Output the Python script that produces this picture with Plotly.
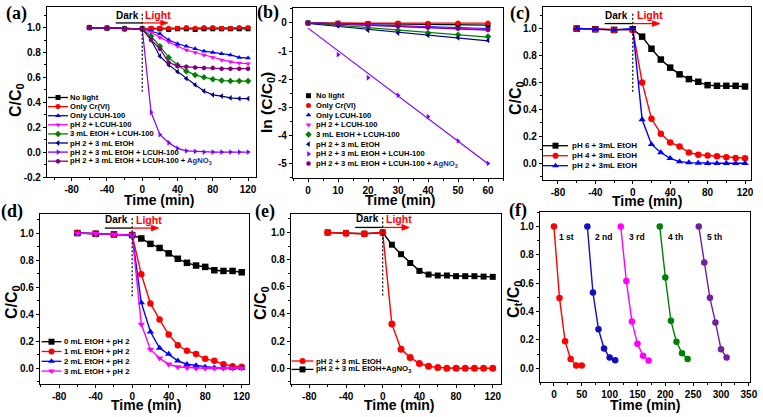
import numpy as np
import plotly.graph_objects as go

W, H = 763, 417
SANS = "Liberation Sans, Arial, sans-serif"
SERIF = "Liberation Serif, Times New Roman, serif"

# ---------------- data ----------------
T = [-60, -40, -20, 0, 10, 20, 30, 40, 50, 60, 70, 80, 90, 100, 110, 120]

A_NAMES = ["No light", "Only Cr(VI)", "Only LCUH-100", "pH 2 + LCUH-100",
           "3 mL EtOH + LCUH-100", "pH 2 + 3 mL EtOH",
           "pH 2 + 3 mL EtOH + LCUH-100",
           "pH 2 + 3 mL EtOH + LCUH-100 + <span style='color:#1c2a8a'>AgNO<sub>3</sub></span>"]
a_nolight = [1.0, 0.995, 0.99, 0.99, 0.99, 0.99, 0.985, 0.99, 0.99, 0.985, 0.99, 0.99, 0.99, 0.99, 0.99, 0.99]
a_cr = [1.0, 1.0, 0.99, 0.995, 0.995, 0.995, 0.995, 0.995, 1.0, 0.995, 1.0, 1.0, 0.995, 0.995, 1.0, 1.0]
a_lcuh = [1.0, 0.995, 0.99, 0.99, 0.97, 0.95, 0.90, 0.87, 0.85, 0.83, 0.81, 0.80, 0.79, 0.78, 0.76, 0.755]
a_ph2 = [1.0, 0.995, 0.99, 0.99, 0.96, 0.92, 0.885, 0.85, 0.82, 0.80, 0.78, 0.76, 0.74, 0.725, 0.715, 0.71]
a_etoh = [1.0, 0.995, 0.99, 0.99, 0.93, 0.85, 0.76, 0.70, 0.65, 0.62, 0.60, 0.585, 0.575, 0.57, 0.57, 0.57]
a_ph2etoh = [1.0, 0.995, 0.99, 0.99, 0.90, 0.77, 0.70, 0.645, 0.59, 0.54, 0.49, 0.46, 0.45, 0.435, 0.43, 0.43]
a_all = [1.0, 0.995, 0.99, 0.99, 0.32, 0.14, 0.075, 0.03, 0.01, 0.005, 0.0, 0.0, 0.0, 0.0, 0.0, 0.0]
a_ag = [1.0, 0.995, 0.99, 0.99, 0.90, 0.83, 0.72, 0.69, 0.685, 0.68, 0.675, 0.675, 0.67, 0.67, 0.67, 0.67]
A_SERIES = [a_nolight, a_cr, a_lcuh, a_ph2, a_etoh, a_ph2etoh, a_all, a_ag]

TB = [0, 10, 20, 30, 40, 50, 60]
b_nolight = [0.0, -0.01, -0.02, -0.03, -0.05, -0.06, -0.08]
b_cr = [0.0, 0.0, -0.01, 0.0, -0.01, 0.0, 0.0]
b_lcuh = [0.0, -0.03, -0.06, -0.10, -0.14, -0.17, -0.19]
b_ph2 = [0.0, -0.04, -0.08, -0.12, -0.16, -0.20, -0.24]
b_etoh = [0.0, -0.07, -0.16, -0.27, -0.36, -0.42, -0.48]
b_ph2etoh = [0.0, -0.10, -0.26, -0.36, -0.44, -0.53, -0.62]
b_all = [0.0, -1.13, -1.95, -2.57, -3.33, -4.20, -5.00]
b_ag = [0.0, -0.04, -0.09, -0.13, -0.17, -0.21, -0.25]
B_SERIES = [b_nolight, b_cr, b_lcuh, b_ph2, b_etoh, b_ph2etoh, b_all, b_ag]

C_NAMES = ["pH 6 + 3mL EtOH", "pH 4 + 3mL EtOH", "pH 2 + 3mL EtOH"]
c_ph6 = [1.0, 0.995, 0.99, 0.995, 0.94, 0.85, 0.77, 0.71, 0.66, 0.625, 0.605, 0.58, 0.575, 0.575, 0.575, 0.57]
c_ph4 = [1.0, 0.995, 0.99, 0.99, 0.60, 0.33, 0.22, 0.155, 0.125, 0.08, 0.063, 0.057, 0.052, 0.045, 0.04, 0.037]
c_ph2 = [1.0, 0.995, 0.99, 1.0, 0.325, 0.14, 0.08, 0.037, 0.012, 0.005, 0.002, 0.0, 0.0, 0.0, 0.0, 0.0]
C_SERIES = [c_ph6, c_ph4, c_ph2]

D_NAMES = ["0 mL EtOH + pH 2", "1 mL EtOH + pH 2", "2 mL EtOH + pH 2", "3 mL EtOH + pH 2"]
d_0 = [1.0, 0.995, 0.99, 0.985, 0.96, 0.92, 0.89, 0.85, 0.81, 0.78, 0.76, 0.75, 0.725, 0.72, 0.72, 0.71]
d_1 = [1.0, 0.995, 0.99, 0.985, 0.695, 0.48, 0.36, 0.25, 0.17, 0.13, 0.105, 0.07, 0.055, 0.03, 0.015, 0.012]
d_2 = [1.0, 0.995, 0.99, 0.985, 0.485, 0.27, 0.15, 0.105, 0.055, 0.03, 0.02, 0.01, 0.005, 0.003, 0.0, 0.0]
d_3 = [1.0, 0.995, 0.99, 0.985, 0.325, 0.14, 0.075, 0.03, 0.01, 0.005, 0.0, 0.0, 0.0, 0.0, 0.0, 0.0]
D_SERIES = [d_0, d_1, d_2, d_3]

E_NAMES = ["pH 2 + 3 mL EtOH", "pH 2 + 3 mL EtOH+AgNO<sub>3</sub>"]
e_ph2 = [1.0, 0.995, 0.99, 1.0, 0.325, 0.14, 0.08, 0.035, 0.015, 0.005, 0.0, 0.0, 0.0, 0.0, 0.0, 0.0]
e_ag = [1.0, 0.995, 0.99, 1.0, 0.91, 0.84, 0.775, 0.717, 0.69, 0.683, 0.683, 0.678, 0.678, 0.678, 0.675, 0.673]

F_LABELS = ["1 st", "2 nd", "3 rd", "4 th", "5 th"]
F_LABEL_X = [6, 70, 132, 202, 272]
F_X = [[0, 10, 20, 30, 40, 50], [60, 70, 80, 90, 100, 110], [120, 130, 140, 150, 160, 170],
       [190, 200, 210, 220, 230, 240], [260, 270, 280, 290, 300, 310]]
F_Y = [[1.0, 0.495, 0.19, 0.065, 0.02, 0.02],
       [1.0, 0.535, 0.275, 0.14, 0.075, 0.057],
       [1.0, 0.615, 0.33, 0.172, 0.088, 0.054],
       [1.0, 0.64, 0.335, 0.186, 0.106, 0.066],
       [1.0, 0.745, 0.497, 0.323, 0.134, 0.075]]

TICK_T = [-80, -40, 0, 40, 80, 120]
TICK_T_TXT = ["-80", "-40", "0", "40", "80", "120"]
TICK_C = [0.0, 0.2, 0.4, 0.6, 0.8, 1.0]
TICK_C_TXT = ["0.0", "0.2", "0.4", "0.6", "0.8", "1.0"]
TICK_CA = [-0.2, 0.0, 0.2, 0.4, 0.6, 0.8, 1.0]
TICK_CA_TXT = ["-0.2", "0.0", "0.2", "0.4", "0.6", "0.8", "1.0"]
TICK_BX = [0, 10, 20, 30, 40, 50, 60]
TICK_BY = [0, -1, -2, -3, -4, -5]
TICK_BY_TXT = ["0", "-1", "-2", "-3", "-4", "-5"]
TICK_FX = [0, 50, 100, 150, 200, 250, 300, 350]

# ---------------- styles ----------------
COL8 = ['#000000', '#FF0000', '#0000FF', '#FF00FF', '#008000', '#000080', '#8000FF', '#800080']
SYM8 = ['square', 'circle', 'triangle-up', 'triangle-down', 'diamond', 'triangle-left', 'triangle-right', 'hexagon']
COL_F = ['#FF0000', '#1010C0', '#FF00FF', '#008000', '#7020A0']

fig = go.Figure()

def line_trace(x, y, color, symbol, size, xa, ya, lw=1.3):
    fig.add_trace(go.Scatter(x=x, y=y, mode='lines+markers', xaxis=xa, yaxis=ya,
                             line=dict(color=color, width=lw),
                             marker=dict(color=color, symbol=symbol, size=size, line=dict(width=0)),
                             showlegend=False, hoverinfo='skip'))

# (a)
for s, c, m in zip(A_SERIES, COL8, SYM8):
    line_trace(T, s, c, m, 5, 'x', 'y', 1.2)

# (b) linear fits + markers
xb = np.array(TB, dtype=float)
for s, c, m in zip(B_SERIES, COL8, SYM8):
    k, b0 = np.polyfit(xb, np.array(s), 1)
    fig.add_trace(go.Scatter(x=[xb[0], xb[-1]], y=[b0 + k * xb[0], b0 + k * xb[-1]], mode='lines',
                             xaxis='x2', yaxis='y2', line=dict(color=c, width=1.2),
                             showlegend=False, hoverinfo='skip'))
for s, c, m in zip(B_SERIES, COL8, SYM8):
    fig.add_trace(go.Scatter(x=TB, y=s, mode='markers', xaxis='x2', yaxis='y2',
                             marker=dict(color=c, symbol=m, size=5), showlegend=False, hoverinfo='skip'))

# (c)
C_COL = ['#000000', '#FF0000', '#0000FF']
C_SYM = ['square', 'circle', 'triangle-up']
for s, c, m in zip(C_SERIES, C_COL, C_SYM):
    line_trace(T, s, c, m, 6.5, 'x3', 'y3', 1.4)

# (d)
D_COL = ['#000000', '#FF0000', '#0000FF', '#FF00FF']
D_SYM = ['square', 'circle', 'triangle-up', 'triangle-down']
for s, c, m in zip(D_SERIES, D_COL, D_SYM):
    line_trace(T, s, c, m, 6.5, 'x4', 'y4', 1.4)

# (e)
line_trace(T, e_ag, '#000000', 'square', 6, 'x5', 'y5', 1.4)
line_trace(T, e_ph2, '#FF0000', 'circle', 7, 'x5', 'y5', 1.4)

# (f)
for xs, ys, c in zip(F_X, F_Y, COL_F):
    line_trace(xs, ys, c, 'circle', 6.5, 'x6', 'y6', 1.4)

# ---------------- axes ----------------
PANELS = {
    '': (47, 256, 7, 177),
    '2': (293, 503, 7.5, 177.5),
    '3': (543, 751, 7, 180),
    '4': (40, 249, 214, 384),
    '5': (291, 501, 214, 384),
    '6': (540, 750, 212, 382),
}
RANGES = {
    '': ([-108, 129], [-0.2, 1.165]),
    '2': ([-5, 65], [-5.5, 0.55]),
    '3': ([-96, 126.4], [-0.124, 1.16]),
    '4': ([-101, 128], [-0.116, 1.141]),
    '5': ([-100, 129], [-0.116, 1.136]),
    '6': ([-25, 352], [-0.097, 1.102]),
}
XT = {'': (TICK_T, TICK_T_TXT, 20), '2': (TICK_BX, [str(v) for v in TICK_BX], 5),
      '3': (TICK_T, TICK_T_TXT, 20), '4': (TICK_T, TICK_T_TXT, 20), '5': (TICK_T, TICK_T_TXT, 20),
      '6': (TICK_FX, [str(v) for v in TICK_FX], 25)}
YT = {'': (TICK_CA, TICK_CA_TXT, 0.1), '2': (TICK_BY, TICK_BY_TXT, 0.5),
      '3': (TICK_C, TICK_C_TXT, 0.1), '4': (TICK_C, TICK_C_TXT, 0.1), '5': (TICK_C, TICK_C_TXT, 0.1),
      '6': (TICK_C, TICK_C_TXT, 0.1)}

tickfont = dict(family=SANS, size=10, color='black', weight='bold')
for k, (x0, x1, y0, y1) in PANELS.items():
    xr, yr = RANGES[k]
    common = dict(showline=True, linecolor='black', linewidth=1.2, mirror=True,
                  ticks='outside', ticklen=3, tickwidth=1.1, tickcolor='black',
                  showgrid=False, zeroline=False, tickfont=tickfont, fixedrange=True,
                  automargin=False)
    xv, xt, xm = XT[k]
    yv, yt, ym = YT[k]
    fig.layout['xaxis' + k] = dict(domain=[x0 / W, x1 / W], range=xr, anchor='y' + k,
                                   tickmode='array', tickvals=xv, ticktext=xt,
                                   minor=dict(ticks='outside', ticklen=2, tickwidth=1, tickcolor='black',
                                              tickmode='linear', tick0=0, dtick=xm, showgrid=False),
                                   **common)
    fig.layout['yaxis' + k] = dict(domain=[1 - y1 / H, 1 - y0 / H], range=yr, anchor='x' + k,
                                   tickmode='array', tickvals=yv, ticktext=yt,
                                   minor=dict(ticks='outside', ticklen=2, tickwidth=1, tickcolor='black',
                                              tickmode='linear', tick0=0, dtick=ym, showgrid=False),
                                   **common)

# overlay pixel axis for legend glyphs
fig.layout['xaxis7'] = dict(domain=[0, 1], range=[0, W], visible=False, anchor='y7', fixedrange=True)
fig.layout['yaxis7'] = dict(domain=[0, 1], range=[H, 0], visible=False, anchor='x7', fixedrange=True)

def txt(x, y, s, size, color='black', xanchor='left', family=SANS, angle=0):
    fig.add_annotation(x=x / W, y=1 - y / H, xref='paper', yref='paper', text=s, showarrow=False,
                       xanchor=xanchor, yanchor='middle', textangle=angle, borderpad=0,
                       font=dict(family=family, size=size, color=color, weight='bold'))

def glyph(x0, x1, y, color, symbol, size, with_line=True):
    xm = (x0 + x1) / 2
    if with_line:
        fig.add_trace(go.Scatter(x=[x0, x1], y=[y, y], mode='lines', xaxis='x7', yaxis='y7',
                                 line=dict(color=color, width=1.3), showlegend=False, hoverinfo='skip'))
    fig.add_trace(go.Scatter(x=[xm], y=[y], mode='markers', xaxis='x7', yaxis='y7',
                             marker=dict(color=color, symbol=symbol, size=size),
                             showlegend=False, hoverinfo='skip', cliponaxis=False))

LEG_FS = 7.6
# legend (a)
for i, (nm, c, m) in enumerate(zip(A_NAMES, COL8, SYM8)):
    yy = 97.5 + 9.1 * i
    glyph(48, 68, yy, c, m, 5)
    txt(69, yy, nm, LEG_FS)
# legend (b)
for i, (nm, c, m) in enumerate(zip(A_NAMES, COL8, SYM8)):
    yy = 95.7 + 9.7 * i
    glyph(306, 311, yy, c, m, 5, with_line=False)
    txt(314.5, yy, nm, LEG_FS)
# legend (c)
for i, (nm, c, m) in enumerate(zip(C_NAMES, C_COL, C_SYM)):
    yy = 145.7 + 10 * i
    glyph(543, 568, yy, c, m, 6)
    txt(570.5, yy, nm, LEG_FS + 0.4)
# legend (d)
for i, (nm, c, m) in enumerate(zip(D_NAMES, D_COL, D_SYM)):
    yy = 341.7 + 9.8 * i
    glyph(41.5, 61.5, yy, c, m, 6)
    txt(63.3, yy, nm, LEG_FS + 0.2)
# legend (e)
for i, (nm, c, m) in enumerate(zip(E_NAMES, ['#FF0000', '#000000'], ['circle', 'square'])):
    yy = 361 + 8.4 * i
    glyph(291.5, 313.5, yy, c, m, 6)
    txt(315, yy, nm, LEG_FS + 0.2)

# Dark / Light markers
for k in ['', '3', '4', '5']:
    xa, ya = 'x' + k, 'y' + k
    ybot = 0.48 if k == '' else 0.53
    fig.add_shape(type='line', xref=xa, yref=ya, x0=0, x1=0, y0=1.11, y1=ybot,
                  line=dict(color='black', width=1.2, dash='2px,2px'))
    fig.add_shape(type='line', xref=xa, yref=ya, x0=-30, x1=0, y0=1.037, y1=1.037,
                  line=dict(color='black', width=1.3))
    fig.add_shape(type='line', xref=xa, yref=ya, x0=0, x1=24, y0=1.037, y1=1.037,
                  line=dict(color='#FF0000', width=1.3))
    fig.add_shape(type='path', xref=xa, yref=ya,
                  path='M 21,1.058 L 29,1.037 L 21,1.016 Z',
                  fillcolor='#FF0000', line=dict(color='#FF0000', width=0.8))
    fig.add_annotation(x=-17, y=1.1, xref=xa, yref=ya, text='Dark', showarrow=False,
                       font=dict(family=SANS, size=10, color='black', weight='bold'))
    fig.add_annotation(x=18, y=1.1, xref=xa, yref=ya, text='Light', showarrow=False,
                       font=dict(family=SANS, size=10.5, color='#FF0000', weight='bold'))

# (f) cycle labels
for lab, lx in zip(F_LABELS, F_LABEL_X):
    fig.add_annotation(x=lx, y=0.925, xref='x6', yref='y6', text=lab, showarrow=False,
                       xanchor='left', font=dict(family=SANS, size=8.5, color='black', weight='bold'))

# axis titles
for (x, y) in [(159, 199.5), (400, 200), (647, 201), (146, 405), (399, 405), (645, 405)]:
    txt(x, y, 'Time (min)', 14, xanchor='center')
txt(16, 100, 'C/C<sub>0</sub>', 16, xanchor='center', angle=-90)
txt(267, 103, 'ln (C/C<sub>0</sub>)', 15.5, xanchor='center', angle=-90)
txt(517, 98, 'C/C<sub>0</sub>', 16, xanchor='center', angle=-90)
txt(12, 302, 'C/C<sub>0</sub>', 16, xanchor='center', angle=-90)
txt(261, 303, 'C/C<sub>0</sub>', 16, xanchor='center', angle=-90)
txt(514, 299, 'C<sub>t</sub>/C<sub>0</sub>', 16, xanchor='center', angle=-90)

# panel labels
for lab, x, y in [('(a)', 16, 13), ('(b)', 268, 12), ('(c)', 520, 13),
                  ('(d)', 12, 212), ('(e)', 265, 212), ('(f)', 518, 211)]:
    txt(x, y, lab, 18, xanchor='center', family=SERIF)

fig.update_layout(width=W, height=H, margin=dict(l=0, r=0, t=0, b=0, autoexpand=False),
                  paper_bgcolor='white', plot_bgcolor='rgba(0,0,0,0)', showlegend=False)
fig.write_html("out.html", config={'displayModeBar': False},
               post_script="document.body.style.margin='0';document.body.style.overflow='hidden';")
